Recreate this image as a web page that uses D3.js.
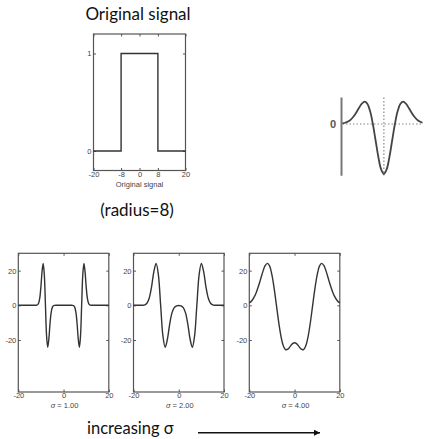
<!DOCTYPE html>
<html><head><meta charset="utf-8">
<script src="https://cdn.jsdelivr.net/npm/d3@7"></script>
<style>
html,body{margin:0;padding:0;background:#fff;}
svg{display:block;}
.tick text{font-family:"Liberation Sans",Arial,sans-serif;font-size:7.5px;fill:#444;}
.tick line{stroke:#555;}
</style></head>
<body>
<svg id="c" width="425" height="439"></svg>
<script>
// ---- data ----
const origX = [-20, -8, -8, 8, 8, 20];
const origY = [0, 0, 1, 1, 0, 0];
const origXTicks = [-20, -8, 0, 8, 20];
const origYTicks = [0, 1];

const sigma1X = [-20,-13,-12.5,-12,-11.5,-11,-10.5,-10,-9.5,-9,-8.5,-8,-7.5,-7,-6.5,-6,-5.5,-5,-4.5,-4,-3,0,3,4,4.5,5,5.5,6,6.5,7,7.5,8,8.5,9,9.5,10,10.5,11,11.5,12,12.5,13,20];
const sigma1Y = [0,0,0.01,0.05,0.3,1.33,4.38,10.8,19.43,24.19,17.6,0,-17.6,-24.19,-19.43,-10.8,-4.38,-1.33,-0.3,-0.05,0,0,0,-0.05,-0.3,-1.33,-4.38,-10.8,-19.43,-24.19,-17.6,0,17.6,24.19,19.43,10.8,4.38,1.33,0.3,0.05,0.01,0,0];

const sigmaX = [-20,-19,-18,-17,-16,-15,-14,-13,-12,-11,-10,-9,-8,-7,-6,-5,-4,-3,-2,-1,0,1,2,3,4,5,6,7,8,9,10,11,12,13,14,15,16,17,18,19,20];
const sigma2Y = [0,0,0,0.02,0.05,0.31,1.33,4.38,10.8,19.43,24.19,17.6,0,-17.6,-24.19,-19.43,-10.8,-4.38,-1.33,-0.31,-0.11,-0.31,-1.33,-4.38,-10.8,-19.43,-24.19,-17.6,0,17.6,24.19,19.43,10.8,4.38,1.33,0.31,0.05,0.02,0,0,0];
const sigma4Y = [1.33,2.5,4.38,7.14,10.8,15.1,19.43,22.83,24.19,22.58,17.59,9.65,-0.05,-9.8,-17.91,-23.24,-25.52,-25.33,-23.81,-22.24,-21.6,-22.24,-23.81,-25.33,-25.52,-23.24,-17.91,-9.8,-0.05,9.65,17.59,22.58,24.19,22.83,19.43,15.1,10.8,7.14,4.38,2.5,1.33];

const panelLabels = ["σ = 1.00", "σ = 2.00", "σ = 4.00"];
const panelXTicks = [-20, 0, 20];
const panelYTicks = [-20, 0, 20];

const insetT = [-3.75,-3.5,-3.25,-3,-2.75,-2.5,-2.25,-2,-1.75,-1.5,-1.25,-1,-0.75,-0.5,-0.25,0,0.25,0.5,0.75,1,1.25,1.5,1.75,2,2.25,2.5,2.75,3,3.25,3.5];
const insetV = [0.012,0.025,0.049,0.089,0.15,0.231,0.323,0.406,0.446,0.406,0.258,0,-0.33,-0.662,-0.909,-1,-0.909,-0.662,-0.33,0,0.258,0.406,0.446,0.406,0.323,0.231,0.15,0.089,0.049,0.025];

// ---- drawing ----
const svg = d3.select("#c");
const textFont = "Lato, 'Open Sans', sans-serif";
const fmt = d => String(d);

// Top panel: original signal
(function(){
  const x = d3.scaleLinear().domain([-20, 20]).range([93.5, 185.5]);
  const y = d3.scaleLinear().domain([-0.2, 1.2]).range([170.5, 34]);
  const g = svg.append("g");
  g.append("rect").attr("x", x(-20)).attr("y", y(1.2)).attr("width", x(20)-x(-20)).attr("height", y(-0.2)-y(1.2))
    .attr("fill","none").attr("stroke","#555").attr("stroke-width",1.2);
  const ab = g.append("g").attr("transform",`translate(0,${y(-0.2)})`)
    .call(d3.axisBottom(x).tickValues(origXTicks).tickSize(-2.5).tickPadding(1.5).tickFormat(fmt));
  const at = g.append("g").attr("transform",`translate(0,${y(1.2)})`)
    .call(d3.axisTop(x).tickValues(origXTicks).tickSize(-2.5).tickFormat(""));
  const al = g.append("g").attr("transform",`translate(${x(-20)},0)`)
    .call(d3.axisLeft(y).tickValues(origYTicks).tickSize(-2.5).tickPadding(2).tickFormat(fmt));
  const ar = g.append("g").attr("transform",`translate(${x(20)},0)`)
    .call(d3.axisRight(y).tickValues(origYTicks).tickSize(-2.5).tickFormat(""));
  [ab,at,al,ar].forEach(a=>a.select(".domain").remove());
  g.append("path").datum(origX.map((d,i)=>[d,origY[i]]))
    .attr("d", d3.line().x(d=>x(d[0])).y(d=>y(d[1])))
    .attr("fill","none").attr("stroke","#333").attr("stroke-width",1.4);
  g.append("text").attr("x",139.5).attr("y",186.5).attr("text-anchor","middle")
    .attr("font-family","'Liberation Sans',Arial,sans-serif").attr("font-size",7.5).attr("fill","#444").text("Original signal");
})();

svg.append("text").attr("x",138).attr("y",20).attr("text-anchor","middle")
  .attr("font-family",textFont).attr("font-size",17).attr("fill","#111").text("Original signal");
svg.append("text").attr("x",137).attr("y",216).attr("text-anchor","middle")
  .attr("font-family",textFont).attr("font-size",17).attr("fill","#111").text("(radius=8)");

// Bottom panels
const panelLeft = [18.3, 133.5, 249.3];
const panelData = [
  sigma1X.map((d,i)=>[d, sigma1Y[i]]),
  sigmaX.map((d,i)=>[d, sigma2Y[i]]),
  sigmaX.map((d,i)=>[d, sigma4Y[i]])
];
panelData.forEach((data, k) => {
  const x = d3.scaleLinear().domain([-20, 20]).range([panelLeft[k], panelLeft[k]+90.5]);
  const y = d3.scaleLinear().domain([-50, 30]).range([392, 253.3]);
  const g = svg.append("g");
  g.append("rect").attr("x", x(-20)).attr("y", y(30)).attr("width", x(20)-x(-20)).attr("height", y(-50)-y(30))
    .attr("fill","none").attr("stroke","#555").attr("stroke-width",1.2);
  const ab = g.append("g").attr("transform",`translate(0,${y(-50)})`)
    .call(d3.axisBottom(x).tickValues(panelXTicks).tickSize(-2.5).tickPadding(1).tickFormat(fmt));
  const at = g.append("g").attr("transform",`translate(0,${y(30)})`)
    .call(d3.axisTop(x).tickValues(panelXTicks).tickSize(-2.5).tickFormat(""));
  const al = g.append("g").attr("transform",`translate(${x(-20)},0)`)
    .call(d3.axisLeft(y).tickValues(panelYTicks).tickSize(-2.5).tickPadding(2).tickFormat(fmt));
  const ar = g.append("g").attr("transform",`translate(${x(20)},0)`)
    .call(d3.axisRight(y).tickValues(panelYTicks).tickSize(-2.5).tickFormat(""));
  [ab,at,al,ar].forEach(a=>a.select(".domain").remove());
  g.append("path").datum(data)
    .attr("d", d3.line().x(d=>x(d[0])).y(d=>y(d[1])).curve(d3.curveCatmullRom))
    .attr("fill","none").attr("stroke","#333").attr("stroke-width",1.4);
  const lab = g.append("text").attr("x", x(0)+1).attr("y", 408).attr("text-anchor","middle")
    .attr("font-family","'Liberation Sans',Arial,sans-serif").attr("font-size",7.5).attr("fill","#444");
  lab.append("tspan").attr("font-style","italic").text(panelLabels[k].slice(0,1));
  lab.append("tspan").text(panelLabels[k].slice(1));
});

// Inset LoG
(function(){
  const x = d3.scaleLinear().domain([-3.75, 3.5]).range([342.5, 422.5]);
  const y = d3.scaleLinear().domain([-1, 0]).range([174, 124]);
  const g = svg.append("g");
  g.append("line").attr("x1",342.5).attr("x2",423).attr("y1",y(0)).attr("y2",y(0))
    .attr("stroke","#888").attr("stroke-width",1.2).attr("stroke-dasharray","1.5,2");
  g.append("line").attr("x1",x(0)).attr("x2",x(0)).attr("y1",y(0.53)).attr("y2",y(-1.03))
    .attr("stroke","#888").attr("stroke-width",1.2).attr("stroke-dasharray","1.5,2");
  g.append("line").attr("x1",341.5).attr("x2",341.5).attr("y1",y(0.53)).attr("y2",y(-1.035))
    .attr("stroke","#777").attr("stroke-width",2);
  g.append("path").datum(insetT.map((d,i)=>[d, insetV[i]]))
    .attr("d", d3.line().x(d=>x(d[0])).y(d=>y(d[1])).curve(d3.curveCatmullRom))
    .attr("fill","none").attr("stroke","#444").attr("stroke-width",1.8);
  g.append("text").attr("x",333).attr("y",y(0)+4).attr("text-anchor","middle")
    .attr("font-family","'Liberation Sans',Arial,sans-serif").attr("font-weight","bold")
    .attr("font-size",11).attr("fill","#555").text("0");
})();

// increasing sigma
svg.append("text").attr("x",87).attr("y",434)
  .attr("font-family",textFont).attr("font-size",16.5).attr("fill","#111").text("increasing σ");
svg.append("defs").append("marker").attr("id","ah").attr("viewBox","0 0 10 10")
  .attr("refX",10).attr("refY",5).attr("markerWidth",6).attr("markerHeight",6)
  .attr("markerUnits","userSpaceOnUse").attr("orient","auto")
  .append("path").attr("d","M0,0L10,5L0,10z").attr("fill","#111");
svg.append("line").attr("x1",198).attr("x2",320).attr("y1",432.7).attr("y2",432.7)
  .attr("stroke","#111").attr("stroke-width",1.5).attr("marker-end","url(#ah)");
</script>
</body></html>
